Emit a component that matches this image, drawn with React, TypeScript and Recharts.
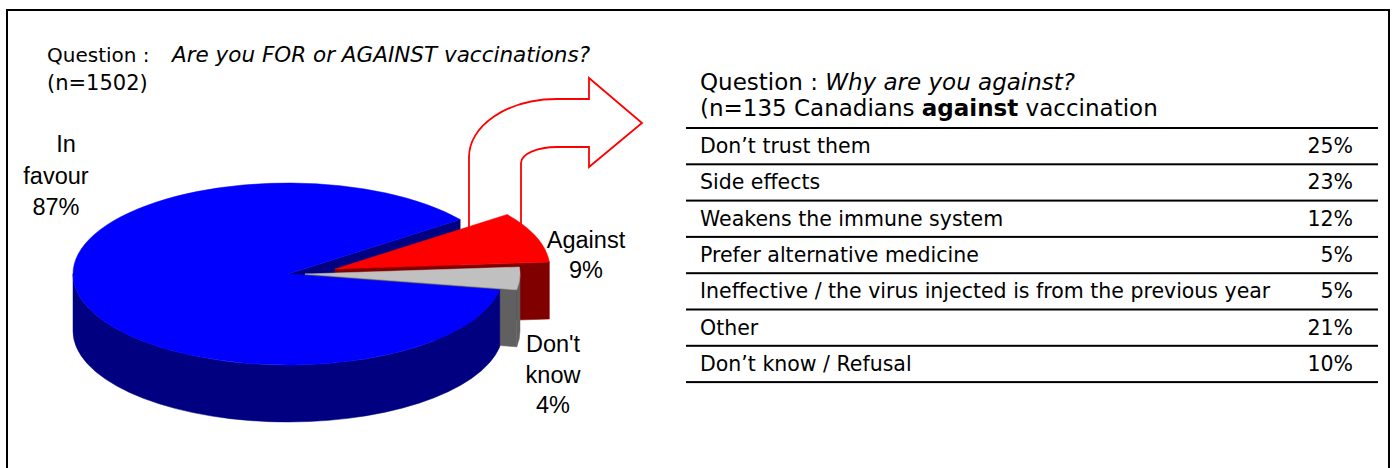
import React from 'react';
import { PieChart, Pie } from 'recharts';

// pie: Are you FOR or AGAINST vaccinations? (n=1502)
const pieNames = ["Don't know", 'Against', 'In favour'];
const pieValues = [4, 9, 87];

// table: Why are you against? (n=135)
const reasonLabels = [
  'Don’t trust them',
  'Side effects',
  'Weakens the immune system',
  'Prefer alternative medicine',
  'Ineffective / the virus injected is from the previous year',
  'Other',
  'Don’t know / Refusal',
];
const reasonValues = [25, 23, 12, 5, 5, 21, 10];

const pieData = pieNames.map((name, i) => ({ name, value: pieValues[i] }));

const TOP: Record<string, string> = { 'In favour': '#0000ff', Against: '#ff0000', "Don't know": '#c0c0c0' };
const SIDE: Record<string, string> = { 'In favour': '#000080', Against: '#800000', "Don't know": '#606060' };
const EXPLODE: Record<string, [number, number]> = { 'In favour': [0, 0], Against: [47, -5], "Don't know": [17, 0] };
const LABEL_POS: Record<string, { x: number; y: number; gap: number; dx: number[] }> = {
  'In favour': { x: 56, y: 152, gap: 31.5, dx: [10, 0, 0] },
  Against: { x: 586, y: 248, gap: 30, dx: [0, 0] },
  "Don't know": { x: 553, y: 352, gap: 30.5, dx: [0, 0, 0] },
};

const TILT = 91 / 215;
const DEPTH = 57;
const RAD = Math.PI / 180;

type Part = 'radial' | 'outer' | 'top';

// draws one face group of a sector as a flattened 3d slice
const sliceLayer = (names: string[], parts: Part[]) => (p: any) => {
  const name = p.payload?.name ?? p.name;
  if (!names.includes(name)) return null;
  const [ox, oy] = EXPLODE[name];
  const cx = p.cx + ox;
  const cy = p.cy + oy;
  const r = p.outerRadius;
  const ry = r * TILT;
  const a1 = Math.min(p.startAngle, p.endAngle);
  const a2 = Math.max(p.startAngle, p.endAngle);
  const pt = (a: number, dy = 0) => `${cx + r * Math.cos(a * RAD)} ${cy - ry * Math.sin(a * RAD) + dy}`;
  const out: React.ReactNode[] = [];

  if (parts.includes('radial')) {
    const faces: number[] = [];
    if (Math.cos(a1 * RAD) > 0) faces.push(a1);
    if (Math.cos(a2 * RAD) < 0) faces.push(a2);
    faces.forEach((a, i) =>
      out.push(
        <path
          key={`r${i}`}
          d={`M ${cx} ${cy} L ${pt(a)} L ${pt(a, DEPTH)} L ${cx} ${cy + DEPTH} Z`}
          fill={SIDE[name]}
          stroke={SIDE[name]}
          strokeWidth={0.5}
        />
      )
    );
  }
  if (parts.includes('outer')) {
    [-360, 0, 360].forEach((k) => {
      const lo = Math.max(a1, 180 + k);
      const hi = Math.min(a2, 360 + k);
      if (hi > lo) {
        out.push(
          <path
            key={`o${k}`}
            d={`M ${pt(lo)} A ${r} ${ry} 0 0 0 ${pt(hi)} L ${pt(hi, DEPTH)} A ${r} ${ry} 0 0 1 ${pt(lo, DEPTH)} Z`}
            fill={SIDE[name]}
            stroke={SIDE[name]}
            strokeWidth={0.5}
          />
        );
      }
    });
  }
  if (parts.includes('top')) {
    const large = a2 - a1 > 180 ? 1 : 0;
    out.push(
      <path
        key="t"
        d={`M ${cx} ${cy} L ${pt(a1)} A ${r} ${ry} 0 ${large} 0 ${pt(a2)} Z`}
        fill={TOP[name]}
        stroke={TOP[name]}
        strokeWidth={0.5}
      />
    );
  }
  return <g>{out}</g>;
};

const layers: [string[], Part[]][] = [
  [['In favour'], ['radial']],
  [['Against'], ['radial', 'outer']],
  [["Don't know"], ['radial', 'outer']],
  [['In favour'], ['outer']],
  [pieNames, ['top']],
];

const tahoma = '"DejaVu Sans", Verdana, sans-serif';
const arial = '"Liberation Sans", Arial, sans-serif';

const ROW_TOP = 127;
const ROW_H = 36.3;

export default function App() {
  return (
    <div style={{ position: 'absolute', left: 0, top: 0, width: 1397, height: 468, overflow: 'hidden', background: '#fff' }}>
      <svg width={1397} height={468} style={{ position: 'absolute', left: 0, top: 0 }}>
        <rect x={7} y={10} width={1382} height={600} fill="none" stroke="#000" strokeWidth={2} />

        <path
          d="M 469 235 L 469 157 A 88 58 0 0 1 557 99 L 589 99 L 589 78 L 642 123 L 589 167 L 589 147 L 557 147 A 36 16 0 0 0 521 163 L 521 232"
          fill="#fff"
          stroke="#ff0000"
          strokeWidth={1.8}
        />

        <text x={47} y={62} fontFamily={tahoma} fontSize={20} fill="#000">
          Question :
          <tspan x={172} fontStyle="italic" fontSize={21.5}>
            Are you FOR or AGAINST vaccinations?
          </tspan>
        </text>
        <text x={47} y={90} fontFamily={tahoma} fontSize={21} fill="#000">(n=1502)</text>

        {pieNames.map((name, i) => {
          const pos = LABEL_POS[name];
          const lines = [...name.split(' '), `${pieValues[i]}%`];
          return (
            <text key={name} fontFamily={arial} fontSize={23.5} fill="#000" textAnchor="middle">
              {lines.map((l, j) => (
                <tspan key={j} x={pos.x + (pos.dx[j] ?? 0)} y={pos.y + j * pos.gap}>{l}</tspan>
              ))}
            </text>
          );
        })}

        <text x={700} y={90} fontFamily={tahoma} fontSize={23} fill="#000">
          Question : <tspan fontStyle="italic">Why are you against?</tspan>
        </text>
        <text x={700} y={116} fontFamily={tahoma} fontSize={23} fill="#000">
          (n=135 Canadians <tspan fontWeight="bold">against</tspan> vaccination
        </text>

        {[...reasonLabels, ''].map((_, i) => (
          <rect key={`l${i}`} x={686} y={ROW_TOP + i * ROW_H} width={692} height={2} fill="#000" />
        ))}
        {reasonLabels.map((label, i) => (
          <g key={label}>
            <text x={700} y={ROW_TOP + i * ROW_H + 26} fontFamily={tahoma} fontSize={20.5} fill="#000">{label}</text>
            <text x={1353} y={ROW_TOP + i * ROW_H + 26} fontFamily={tahoma} fontSize={20.5} fill="#000" textAnchor="end">
              {reasonValues[i]}%
            </text>
          </g>
        ))}
      </svg>

      <div style={{ position: 'absolute', left: 0, top: 0, width: 700, height: 468 }}>
        <PieChart width={700} height={468} margin={{ top: 0, right: 0, bottom: 0, left: 0 }}>
          {layers.map(([names, parts], i) => (
            <Pie
              key={i}
              data={pieData}
              dataKey="value"
              nameKey="name"
              cx={288}
              cy={274}
              outerRadius={215}
              startAngle={-10}
              endAngle={350}
              fill="none"
              stroke="none"
              label={sliceLayer(names, parts)}
              labelLine={false}
              legendType="none"
              isAnimationActive={false}
            />
          ))}
        </PieChart>
      </div>
    </div>
  );
}
